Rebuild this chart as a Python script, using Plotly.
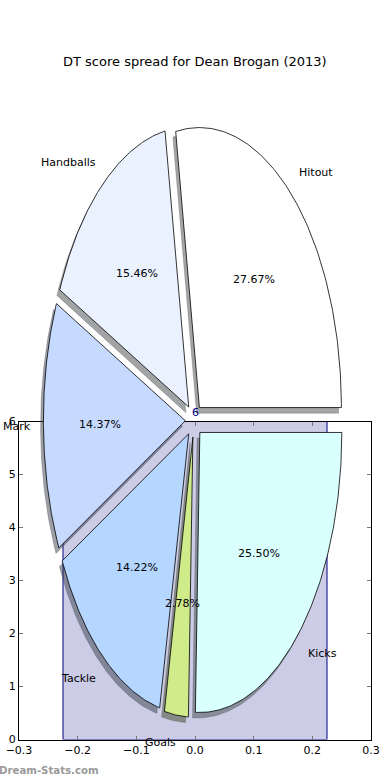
import numpy as np
import plotly.graph_objects as go

# ---- data ----
categories = ["Hitout", "Handballs", "Mark", "Tackle", "Goals", "Kicks"]
percentages = [27.67, 15.46, 14.37, 14.22, 2.78, 25.50]
slice_colors = ["#ffffff", "#eaf1ff", "#c6d9ff", "#b4d6ff", "#cfeb8a", "#d9ffff"]
bar_x = [0.0]
bar_height = [6]
x_ticks = [-0.3, -0.2, -0.1, 0.0, 0.1, 0.2, 0.3]
y_ticks = [0, 1, 2, 3, 4, 5, 6]
title = "DT score spread for Dean Brogan (2013)"

# ---- pie geometry (pixel space of overlay axes) ----
CX, CY = 193.9, 420.4
RX, RY = 142.0, 280.0
EXPLODE = 0.06
SH_DX, SH_DY = -0.02 * RX, 0.02 * RY


def hex_rgb(h):
    h = h.lstrip("#")
    return tuple(int(h[i:i + 2], 16) for i in (0, 2, 4))


fig = go.Figure()

# main axes bar
fig.add_trace(go.Bar(
    x=bar_x, y=bar_height, width=0.45,
    marker=dict(color="#cccce6", line=dict(color="#000080", width=1)),
    xaxis="x", yaxis="y", hoverinfo="skip", showlegend=False))

total = sum(percentages)
angles = []
start = 0.0
for p in percentages:
    span = 360.0 * p / total
    angles.append((start, start + span))
    start += span

wedges = []
for (a1, a2) in angles:
    am = np.radians((a1 + a2) / 2)
    ax_ = CX + RX * EXPLODE * np.cos(am)
    ay_ = CY - RY * EXPLODE * np.sin(am)
    th = np.radians(np.linspace(a1, a2, 120))
    xs = np.concatenate([[ax_], ax_ + RX * np.cos(th), [ax_]])
    ys = np.concatenate([[ay_], ay_ - RY * np.sin(th), [ay_]])
    wedges.append((xs, ys, am, ax_, ay_))

# shadows first
for (xs, ys, am, ax_, ay_), col in zip(wedges, slice_colors):
    r, g, b = hex_rgb(col)
    sc = f"rgba({int(r*0.3)},{int(g*0.3)},{int(b*0.3)},0.5)"
    fig.add_trace(go.Scatter(
        x=xs + SH_DX, y=ys + SH_DY, mode="lines", fill="toself",
        fillcolor=sc, line=dict(color=sc, width=0.5),
        xaxis="x2", yaxis="y2", hoverinfo="skip", showlegend=False))

for (xs, ys, am, ax_, ay_), col in zip(wedges, slice_colors):
    fig.add_trace(go.Scatter(
        x=xs, y=ys, mode="lines", fill="toself",
        fillcolor=col, line=dict(color="black", width=0.8),
        xaxis="x2", yaxis="y2", hoverinfo="skip", showlegend=False))

annotations = []
FONT = "DejaVu Sans"
for (xs, ys, am, ax_, ay_), cat, p in zip(wedges, categories, percentages):
    lx = ax_ + 1.1 * RX * np.cos(am)
    ly = ay_ - 1.1 * RY * np.sin(am)
    right_side = np.cos(am) > 0
    annotations.append(dict(
        x=lx, y=ly, xref="x2", yref="y2", text=cat, showarrow=False,
        xanchor="left" if right_side else "right", yanchor="middle",
        xshift=-3 if right_side else 4,
        font=dict(family=FONT, size=11, color="black")))
    px = ax_ + 0.6 * RX * np.cos(am)
    py = ay_ - 0.6 * RY * np.sin(am)
    annotations.append(dict(
        x=px, y=py, xref="x2", yref="y2", text=f"{p:.2f}%", showarrow=False,
        xanchor="center", yanchor="middle",
        font=dict(family=FONT, size=11, color="black")))

# bar value label
annotations.append(dict(
    x=bar_x[0], y=bar_height[0], xref="x", yref="y", text=str(bar_height[0]),
    showarrow=False, xanchor="center", yanchor="bottom", yshift=1,
    font=dict(family=FONT, size=11, color="#000080")))

# title
annotations.append(dict(
    x=195, y=61, xref="x2", yref="y2", text=title, showarrow=False,
    xanchor="center", yanchor="middle",
    font=dict(family=FONT, size=13, color="black")))

# watermark
annotations.append(dict(
    x=0, y=770, xref="x2", yref="y2", text="<b>Dream-Stats.com</b>",
    showarrow=False, xanchor="left", yanchor="middle", xshift=-3,
    font=dict(family=FONT, size=10.2, color="#9a9a9a")))

W, H = 390, 780
x_dom = [19 / W, 371 / W]
y_dom = [1 - 739.5 / H, 1 - 421.5 / H]

fig.update_layout(
    width=W, height=H,
    margin=dict(l=0, r=0, t=0, b=0, pad=0, autoexpand=False),
    paper_bgcolor="white", plot_bgcolor="rgba(0,0,0,0)",
    showlegend=False,
    annotations=annotations,
    xaxis=dict(domain=x_dom, range=[-0.3, 0.3], tickvals=x_ticks,
               ticktext=[f"{v:.1f}".replace("-", "\u2212") for v in x_ticks],
               ticks="inside", ticklen=4, tickcolor="#777",
               showline=True, linecolor="black", linewidth=1, mirror="ticks",
               showgrid=False, zeroline=False, anchor="y", automargin=False,
               tickfont=dict(family=FONT, size=11, color="black")),
    yaxis=dict(domain=y_dom, range=[0, 6], tickvals=y_ticks,
               ticks="inside", ticklen=4, tickcolor="#777",
               showline=True, linecolor="black", linewidth=1, mirror="ticks",
               showgrid=False, zeroline=False, anchor="x", automargin=False,
               tickfont=dict(family=FONT, size=11, color="black")),
    xaxis2=dict(domain=[0, 1], range=[0, W], visible=False, anchor="y2",
                fixedrange=True, automargin=False),
    yaxis2=dict(domain=[0, 1], range=[H, 0], visible=False, anchor="x2",
                fixedrange=True, automargin=False),
)

fig.write_html(
    "out.html",
    config={"displayModeBar": False},
    post_script="document.body.style.margin='0';document.body.style.overflow='hidden';",
)
